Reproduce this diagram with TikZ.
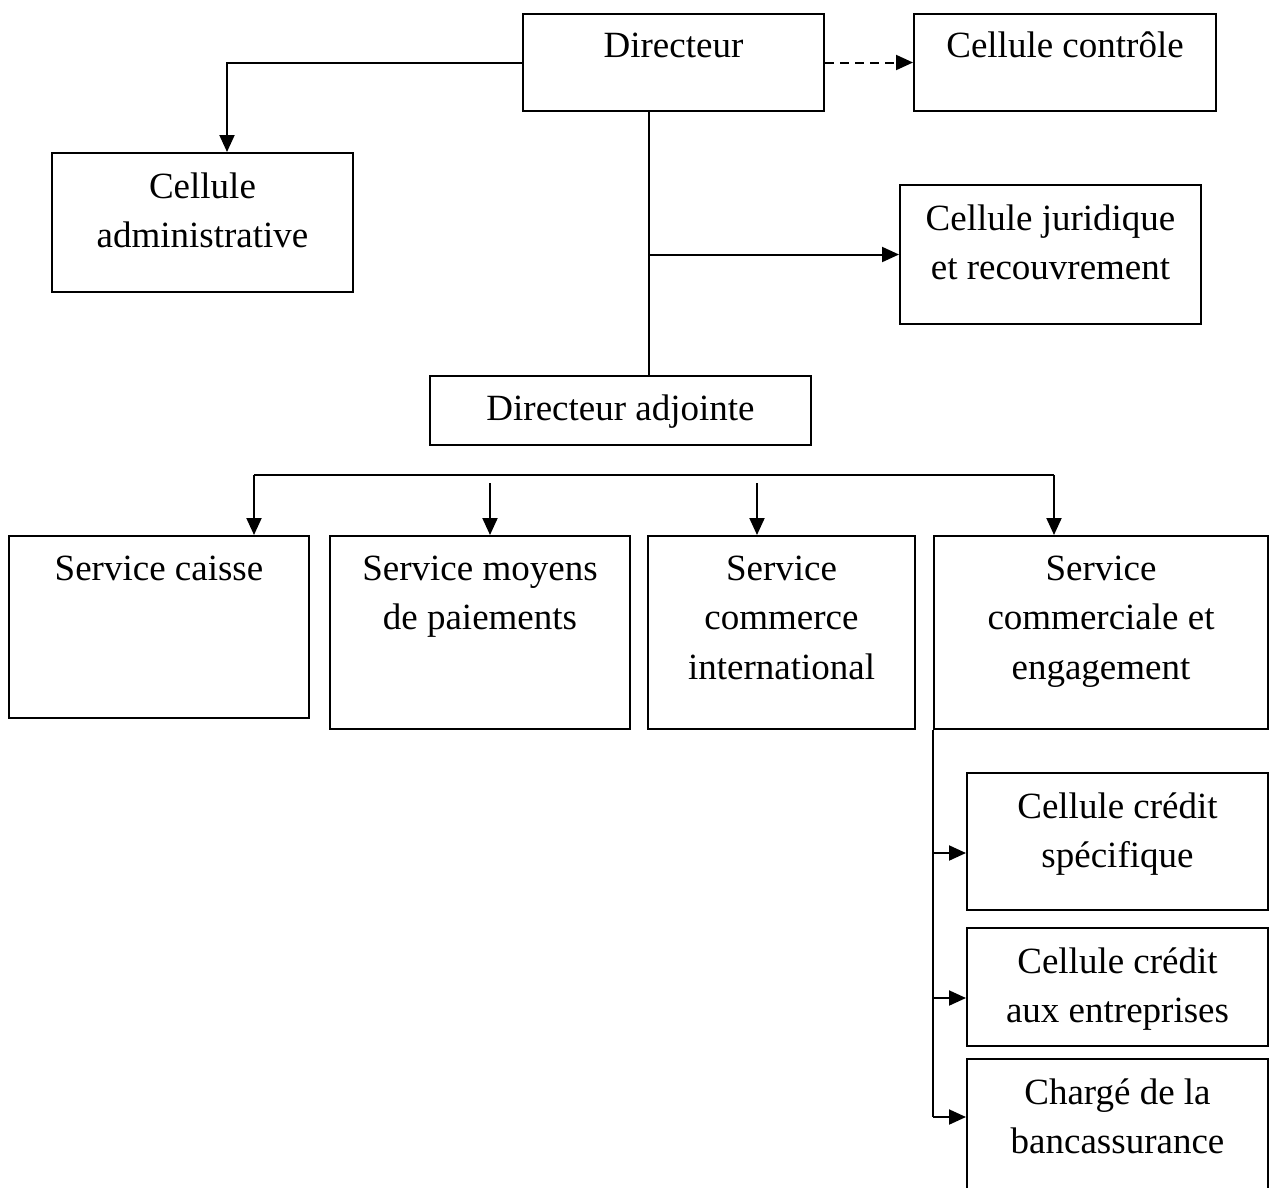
\documentclass[tikz,border=0pt]{standalone}
\usepackage{fontspec}
\setmainfont{Liberation Serif}
\usetikzlibrary{arrows.meta}
\begin{document}
\begin{tikzpicture}[x=1pt,y=-1pt,
  box/.style={draw, line width=2pt, rectangle, inner sep=0pt, anchor=north west},
  lbl/.style={anchor=base, align=center, inner sep=0pt, font=\fontsize{37}{49.5}\selectfont},
  conn/.style={line width=2pt},
  arr/.style={line width=2pt, -{Triangle[length=17pt,width=15pt]}},
  darr/.style={arr, dash pattern=on 9pt off 6pt}]
\useasboundingbox (0,0) rectangle (1269,1187);

% boxes
\node[box, minimum width=301pt, minimum height=97pt] (dir) at (522,13) {};
\node[box, minimum width=302pt, minimum height=97pt] (ctrl) at (913,13) {};
\node[box, minimum width=301pt, minimum height=139pt] (adm) at (51,152) {};
\node[box, minimum width=301pt, minimum height=139pt] (jur) at (899,184) {};
\node[box, minimum width=381pt, minimum height=69pt] (adj) at (429,375) {};
\node[box, minimum width=300pt, minimum height=182pt] (caisse) at (8,535) {};
\node[box, minimum width=300pt, minimum height=193pt] (moyens) at (329,535) {};
\node[box, minimum width=267pt, minimum height=193pt] (comint) at (647,535) {};
\node[box, minimum width=334pt, minimum height=193pt] (comeng) at (933,535) {};
\node[box, minimum width=301pt, minimum height=137pt] (spec) at (966,772) {};
\node[box, minimum width=301pt, minimum height=118pt] (entr) at (966,927) {};
\node[box, minimum width=301pt, minimum height=170pt] (banc) at (966,1058) {};

% labels (base anchor = baseline of the last line)
\node[lbl] (tdir) at ([yshift=-44pt]dir.north) {Directeur};
\node[lbl] (tctrl) at ([yshift=-44pt]ctrl.north) {Cellule contrôle};
\node[lbl] (tadm) at ([yshift=-95.5pt]adm.north) {Cellule\\administrative};
\node[lbl] (tjur) at ([yshift=-95.5pt]jur.north) {Cellule juridique\\et recouvrement};
\node[lbl] (tadj) at ([yshift=-45pt]adj.north) {Directeur adjointe};
\node[lbl] (tcaisse) at ([yshift=-45pt]caisse.north) {Service caisse};
\node[lbl] (tmoyens) at ([yshift=-94.5pt]moyens.north) {Service moyens\\de paiements};
\node[lbl] (tcomint) at ([yshift=-144pt]comint.north) {Service\\commerce\\international};
\node[lbl] (tcomeng) at ([yshift=-144pt]comeng.north) {Service\\commerciale et\\engagement};
\node[lbl] (tspec) at ([yshift=-95.5pt]spec.north) {Cellule crédit\\spécifique};
\node[lbl] (tentr) at ([yshift=-95.5pt]entr.north) {Cellule crédit\\aux entreprises};
\node[lbl] (tbanc) at ([yshift=-95.5pt]banc.north) {Chargé de la\\bancassurance};

% connectors
\draw[darr] (dir.east) -- (ctrl.west);
\draw[arr] (dir.west) -| ([xshift=24.5pt]adm.north);
\coordinate (vtop) at ([xshift=-24.5pt]dir.south);
\draw[conn] (vtop) -- (vtop |- adj.north);
\draw[arr] (vtop |- jur.west) -- (jur.west);

\coordinate (busL) at (254,475);
\coordinate (busR) at (1054,475);
\coordinate (b2) at (490,483);
\coordinate (b3) at (757,483);
\draw[conn] (busL) -- (busR);
\draw[arr] (busL) -- (busL |- caisse.north);
\draw[arr] (b2) -- (b2 |- moyens.north);
\draw[arr] (b3) -- (b3 |- comint.north);
\draw[arr] (busR) -- (busR |- comeng.north);

\coordinate (s1) at (933,853);
\coordinate (s2) at (933,998);
\coordinate (s3) at (933,1117);
\draw[conn] (comeng.south west) -- (s3);
\draw[arr] (s1) -- (s1 -| spec.west);
\draw[arr] (s2) -- (s2 -| entr.west);
\draw[arr] (s3) -- (s3 -| banc.west);
\end{tikzpicture}
\end{document}
